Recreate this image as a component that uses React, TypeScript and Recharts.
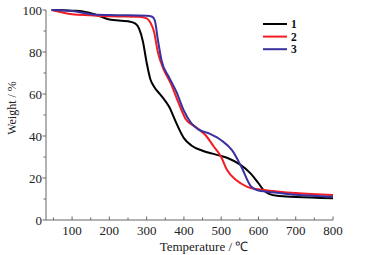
import React from 'react';
import { LineChart, Line, XAxis, YAxis } from 'recharts';

// Temperature (°C) sample points for each curve
const temp1 = [45, 100, 130, 160, 200, 250, 270, 280, 290, 300, 310, 320, 340, 360, 380, 400, 420, 450, 500, 520, 550, 580, 600, 615, 630, 650, 700, 800];
const weight1 = [100, 99.7, 99.3, 98, 95.5, 94.6, 93.5, 91, 85, 75, 67, 63.5, 59, 54, 46, 39, 35.5, 33, 30.5, 29.3, 26.5, 22, 17.5, 14, 12.3, 11.5, 11, 10.4];

const temp2 = [45, 100, 150, 200, 280, 300, 310, 320, 330, 345, 365, 385, 405, 430, 460, 480, 500, 515, 540, 570, 600, 650, 700, 800];
const weight2 = [100, 98, 97.5, 97, 96.8, 96, 94, 89.5, 80, 72, 65, 56, 48, 44.5, 40, 35, 30, 24, 19, 15.8, 14.6, 13.6, 12.8, 11.9];

const temp3 = [45, 100, 150, 200, 300, 315, 322, 330, 340, 360, 380, 400, 420, 440, 470, 500, 530, 555, 580, 600, 650, 700, 800];
const weight3 = [100, 99.5, 98, 97.6, 97.3, 96.8, 95, 86, 76, 68, 61, 52, 46, 43, 41, 38, 33, 25, 16, 14, 13, 12, 11.1];

const xTicks = [50, 100, 150, 200, 250, 300, 350, 400, 450, 500, 550, 600, 650, 700, 750, 800];
const yTicks = [0, 10, 20, 30, 40, 50, 60, 70, 80, 90, 100];

const series = [
  { name: '1', color: '#000000', data: temp1.map((t, i) => ({ t, w: weight1[i] })) },
  { name: '2', color: '#f21d24', data: temp2.map((t, i) => ({ t, w: weight2[i] })) },
  { name: '3', color: '#3a31a0', data: temp3.map((t, i) => ({ t, w: weight3[i] })) },
];

const FONT = '"Liberation Serif", "Times New Roman", serif';
const AXIS = '#666';

const XTick = ({ x, y, payload }: any) => {
  const major = payload.value % 100 === 0;
  return (
    <g>
      <line x1={x} x2={x} y1={y} y2={y - (major ? 3.5 : 2.5)} stroke={AXIS} />
      {major && (
        <text x={x} y={y + 15} textAnchor="middle" fontSize={13} fontFamily={FONT} fill="#222">
          {payload.value}
        </text>
      )}
    </g>
  );
};

const YTick = ({ x, y, payload }: any) => {
  const major = payload.value % 20 === 0;
  return (
    <g>
      <line x1={x} x2={x - (major ? 3.5 : 2.5)} y1={y} y2={y} stroke={AXIS} />
      {major && (
        <text x={x - 4} y={y + 4.5} textAnchor="end" fontSize={13} fontFamily={FONT} fill="#222">
          {payload.value}
        </text>
      )}
    </g>
  );
};

export default function App() {
  return (
    <div style={{ position: 'absolute', left: 0, top: 0, background: '#fff' }}>
      <LineChart width={372} height={255} margin={{ top: 10, right: 39, bottom: 0, left: 0 }}>
        <XAxis
          type="number"
          dataKey="t"
          domain={[30, 800]}
          ticks={xTicks}
          interval={0}
          allowDuplicatedCategory={false}
          height={35}
          stroke={AXIS}
          tickLine={false}
          tickSize={0}
          tickMargin={0}
          tick={<XTick />}
        />
        <YAxis
          type="number"
          dataKey="w"
          domain={[0, 100]}
          ticks={yTicks}
          interval={0}
          width={46}
          stroke={AXIS}
          tickLine={false}
          tickSize={0}
          tickMargin={0}
          tick={<YTick />}
        />
        {series.map(s => (
          <Line
            key={s.name}
            data={s.data}
            dataKey="w"
            name={s.name}
            type="monotone"
            stroke={s.color}
            strokeWidth={2}
            dot={false}
            isAnimationActive={false}
          />
        ))}
        {/* legend */}
        {series.map((s, i) => (
          <g key={'lg' + s.name}>
            <line x1={263} x2={287} y1={24 + i * 12.6} y2={24 + i * 12.6} stroke={s.color} strokeWidth={2} />
            <text x={291} y={28 + i * 12.6} fontSize={11.5} fontWeight="bold" fontFamily={FONT} fill="#111">
              {s.name}
            </text>
          </g>
        ))}
        <text x={13} y={108} transform="rotate(-90 13 108)" textAnchor="middle" dominantBaseline="middle" fontSize={12} fontFamily={FONT} fill="#222">
          Weight / %
        </text>
        <text x={204} y={251} textAnchor="middle" fontSize={13} fontFamily={FONT} fill="#222">
          Temperature / ℃
        </text>
      </LineChart>
    </div>
  );
}
